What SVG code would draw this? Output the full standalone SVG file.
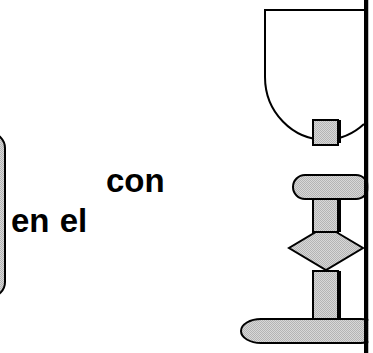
<svg xmlns="http://www.w3.org/2000/svg" width="373" height="353" viewBox="0 0 373 353">
<defs>
<pattern id="chk" width="2" height="2" patternUnits="userSpaceOnUse">
<rect width="2" height="2" fill="#d8d8d8"/>
<rect width="1" height="1" fill="#b4b4b4"/>
<rect x="1" y="1" width="1" height="1" fill="#b4b4b4"/>
</pattern>
<style>
.s{fill:url(#chk);stroke:#000;stroke-width:2}
.o{fill:none;stroke:#000;stroke-width:2}
.t{font-family:"Liberation Sans",Arial,sans-serif;font-weight:bold;font-size:33px;fill:#000}
</style>
</defs>
<rect width="373" height="353" fill="#fff"/>
<g id="leftbox"><rect class="s" x="-40" y="133" width="45" height="164" rx="15" ry="15"/></g>
<g id="labels">
<text class="t" x="106" y="192">con</text>
<text class="t" x="11" y="232" word-spacing="1">en el</text>
</g>
<g id="bowl">
<path class="o" d="M364,10 H265 V77 A61,63 0 0 0 326,140 A61,63 0 0 0 364,124"/>
</g>
<g id="connectors">
<line class="o" x1="340" y1="120" x2="340" y2="143" stroke-width="1.5"/>
<line class="o" x1="340" y1="199" x2="340" y2="232" stroke-width="1.5"/>
<line class="o" x1="340" y1="271" x2="340" y2="319" stroke-width="1.5"/>
</g>
<g id="square"><rect class="s" x="313" y="120" width="25" height="25"/></g>
<g id="pill"><rect class="s" x="293" y="175" width="75" height="24" rx="12" ry="12"/></g>
<g id="diamond"><polygon class="s" points="326,226 363,248 326,270 289,248"/></g>
<g id="stem1"><rect class="s" x="313" y="199" width="25" height="33"/></g>
<g id="stem2"><rect class="s" x="313" y="271" width="25" height="48"/></g>
<g id="base"><rect class="s" x="241" y="319" width="140" height="24" rx="20" ry="12"/></g>
<g id="bar"><rect x="364" y="0" width="4.5" height="353" fill="#000"/><rect x="368.5" y="0" width="5" height="353" fill="#fff"/></g>
</svg>
